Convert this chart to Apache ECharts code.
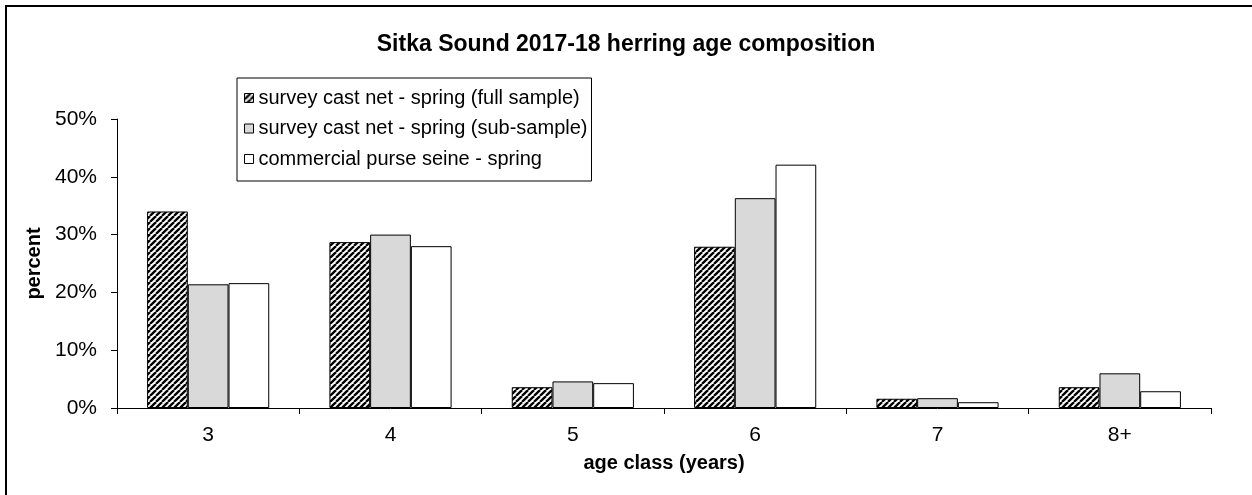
<!DOCTYPE html>
<html>
<head>
<meta charset="utf-8">
<title>Sitka Sound 2017-18 herring age composition</title>
<script src="https://cdn.jsdelivr.net/npm/echarts@6/dist/echarts.min.js"></script>
<style>
  html, body { margin: 0; padding: 0; background: #fff; }
  #chart { width: 1252px; height: 495px; }
</style>
</head>
<body>
<div id="chart"></div>
<script>
// Age classes and percent composition for each sample type
const ageClasses = ['3', '4', '5', '6', '7', '8+'];
const castNetFull = [34.0, 28.7, 3.6, 27.9, 1.6, 3.6];
const castNetSub = [21.4, 30.0, 4.6, 36.3, 1.7, 6.0];
const purseSeine = [21.6, 28.0, 4.3, 42.1, 1.0, 2.9];
const yTicks = [0, 10, 20, 30, 40, 50];

const FONT = '"Liberation Sans", Arial, sans-serif';

// Diagonal black/white hatching for the full-sample bars
function makeHatch(size, width) {
  const c = document.createElement('canvas');
  c.width = size; c.height = size;
  const ctx = c.getContext('2d');
  ctx.fillStyle = '#fff';
  ctx.fillRect(0, 0, size, size);
  ctx.strokeStyle = '#000';
  ctx.lineWidth = width;
  for (const k of [-size, 0, size]) {
    ctx.beginPath();
    ctx.moveTo(k, size);
    ctx.lineTo(k + size, 0);
    ctx.stroke();
  }
  return c;
}
const hatch = { image: makeHatch(6, 2.3), repeat: 'repeat' };

const chart = echarts.init(document.getElementById('chart'), null, { renderer: 'canvas' });

const barBorder = { borderColor: '#000', borderWidth: 1 };

chart.setOption({
  animation: false,
  backgroundColor: '#fff',
  textStyle: { fontFamily: FONT, color: '#000' },
  title: {
    text: 'Sitka Sound 2017-18 herring age composition',
    left: 'center',
    top: 28,
    textStyle: { fontFamily: FONT, fontSize: 23, fontWeight: 'bold', color: '#000' }
  },
  legend: {
    orient: 'vertical',
    left: 237,
    top: 78,
    padding: [10, 4, 12, 7],
    itemGap: 10.5,
    itemWidth: 9,
    itemHeight: 9,
    backgroundColor: '#fff',
    borderColor: '#000',
    borderWidth: 1,
    icon: 'rect',
    textStyle: { fontFamily: FONT, fontSize: 20, color: '#000' },
    itemStyle: { borderColor: '#000', borderWidth: 1 },
    data: [
      'survey cast net - spring (full sample)',
      'survey cast net - spring (sub-sample)',
      'commercial purse seine - spring'
    ]
  },
  grid: { left: 117, right: 41, top: 119, bottom: 87, containLabel: false },
  xAxis: {
    type: 'category',
    data: ageClasses,
    name: 'age class (years)',
    nameLocation: 'middle',
    nameGap: 45,
    nameTextStyle: { fontFamily: FONT, fontSize: 20, fontWeight: 'bold', color: '#000' },
    axisLine: { lineStyle: { color: '#000', width: 1 } },
    axisTick: { show: true, length: 6, alignWithLabel: false, lineStyle: { color: '#000' } },
    axisLabel: { fontFamily: FONT, fontSize: 21, color: '#000', margin: 17 },
    splitLine: { show: false }
  },
  yAxis: {
    type: 'value',
    min: yTicks[0],
    max: yTicks[yTicks.length - 1],
    interval: 10,
    name: 'percent',
    nameLocation: 'middle',
    nameGap: 72,
    nameRotate: 90,
    nameTextStyle: { fontFamily: FONT, fontSize: 20, fontWeight: 'bold', color: '#000' },
    axisLine: { show: true, lineStyle: { color: '#000', width: 1 } },
    axisTick: { show: true, length: 6, lineStyle: { color: '#000' } },
    axisLabel: { fontFamily: FONT, fontSize: 21, color: '#000', margin: 20, formatter: '{value}%' },
    splitLine: { show: false }
  },
  graphic: [{
    type: 'rect',
    silent: true,
    z: 100,
    shape: { x: 6, y: 6, width: 1400, height: 700 },
    style: { fill: null, stroke: '#000', lineWidth: 2 }
  }],
  series: [
    {
      name: 'survey cast net - spring (full sample)',
      type: 'bar',
      data: castNetFull,
      barGap: '0%',
      barCategoryGap: '33%',
      itemStyle: Object.assign({ color: hatch }, barBorder)
    },
    {
      name: 'survey cast net - spring (sub-sample)',
      type: 'bar',
      data: castNetSub,
      barGap: '0%',
      barCategoryGap: '33%',
      itemStyle: Object.assign({ color: '#d9d9d9' }, barBorder)
    },
    {
      name: 'commercial purse seine - spring',
      type: 'bar',
      data: purseSeine,
      barGap: '0%',
      barCategoryGap: '33%',
      itemStyle: Object.assign({ color: '#ffffff' }, barBorder)
    }
  ]
});
</script>
</body>
</html>
